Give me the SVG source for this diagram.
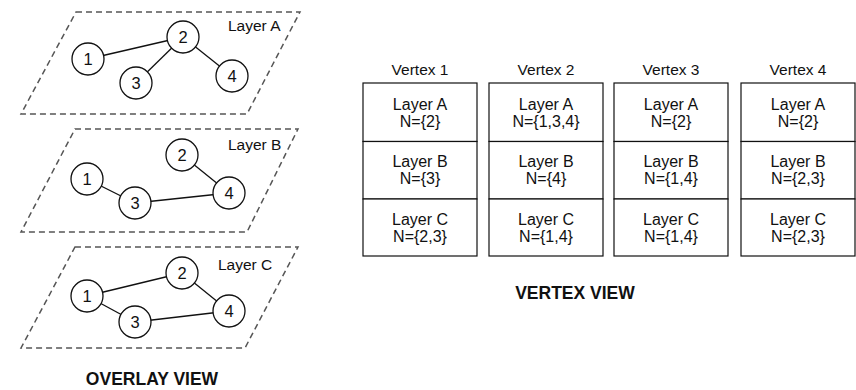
<svg xmlns="http://www.w3.org/2000/svg" width="856" height="390" viewBox="0 0 856 390">
<style>
.plane{fill:none;stroke:#555;stroke-width:1.5;stroke-dasharray:6,4}
.edge{stroke:#111;stroke-width:1.3;fill:none}
.node circle{fill:#fff;stroke:#111;stroke-width:1.3}
text{font-family:"Liberation Sans",Arial,sans-serif;fill:#111}
.num{font-size:16.5px;text-anchor:middle;dominant-baseline:central}
.lbl{font-size:15.5px}
.cell rect{fill:#fff;stroke:#111;stroke-width:1.2}
.ct{font-size:16px;text-anchor:middle}
.hd{font-size:15.5px;text-anchor:middle}
.title{font-size:17.5px;font-weight:bold;text-anchor:middle}
</style>
<rect width="856" height="390" fill="#fff"/>
<g id="layerA">
<polygon class="plane" points="76,12 300,12 247,114 21,114"/>
<text class="lbl" x="228" y="31">Layer A</text>
<g id="connectorsA">
<line class="edge" x1="88" y1="59" x2="183" y2="37"/>
<line class="edge" x1="183" y1="37" x2="136" y2="83"/>
<line class="edge" x1="183" y1="37" x2="232" y2="76"/>
</g>
<g id="A1" class="node"><circle cx="88" cy="59" r="16"/><text class="num" x="88" y="59">1</text></g>
<g id="A2" class="node"><circle cx="183" cy="37" r="16"/><text class="num" x="183" y="37">2</text></g>
<g id="A3" class="node"><circle cx="136" cy="83" r="16"/><text class="num" x="136" y="83">3</text></g>
<g id="A4" class="node"><circle cx="232" cy="76" r="16"/><text class="num" x="232" y="76">4</text></g>
</g>
<g id="layerB">
<polygon class="plane" points="75,129 298,129 247,232 21,232"/>
<text class="lbl" x="228" y="150">Layer B</text>
<g id="connectorsB">
<line class="edge" x1="182" y1="155" x2="229" y2="193"/>
<line class="edge" x1="87" y1="179" x2="135" y2="203"/>
<line class="edge" x1="135" y1="203" x2="229" y2="193"/>
</g>
<g id="B1" class="node"><circle cx="87" cy="179" r="16"/><text class="num" x="87" y="179">1</text></g>
<g id="B2" class="node"><circle cx="182" cy="155" r="16"/><text class="num" x="182" y="155">2</text></g>
<g id="B3" class="node"><circle cx="135" cy="203" r="16"/><text class="num" x="135" y="203">3</text></g>
<g id="B4" class="node"><circle cx="229" cy="193" r="16"/><text class="num" x="229" y="193">4</text></g>
</g>
<g id="layerC">
<polygon class="plane" points="75,247 298,247 245,348 21,348"/>
<text class="lbl" x="218" y="270">Layer C</text>
<g id="connectorsC">
<line class="edge" x1="87" y1="296" x2="182" y2="273"/>
<line class="edge" x1="182" y1="273" x2="229" y2="311"/>
<line class="edge" x1="87" y1="296" x2="135" y2="322"/>
<line class="edge" x1="135" y1="322" x2="229" y2="311"/>
</g>
<g id="C1" class="node"><circle cx="87" cy="296" r="16"/><text class="num" x="87" y="296">1</text></g>
<g id="C2" class="node"><circle cx="182" cy="273" r="16"/><text class="num" x="182" y="273">2</text></g>
<g id="C3" class="node"><circle cx="135" cy="322" r="16"/><text class="num" x="135" y="322">3</text></g>
<g id="C4" class="node"><circle cx="229" cy="311" r="16"/><text class="num" x="229" y="311">4</text></g>
</g>
<text class="title" x="152" y="385">OVERLAY VIEW</text>

<g id="vertex1" class="cell">
<text class="hd" x="420" y="75">Vertex 1</text>
<rect x="363" y="83" width="114" height="58.5"/>
<rect x="363" y="141.5" width="114" height="57.5"/>
<rect x="363" y="199" width="114" height="57"/>
<text class="ct" x="420" y="109.5">Layer A</text><text class="ct" x="420" y="126.5">N={2}</text>
<text class="ct" x="420" y="167">Layer B</text><text class="ct" x="420" y="184">N={3}</text>
<text class="ct" x="420" y="224.5">Layer C</text><text class="ct" x="420" y="241.5">N={2,3}</text>
</g>
<g id="vertex2" class="cell">
<text class="hd" x="546" y="75">Vertex 2</text>
<rect x="489" y="83" width="114" height="58.5"/>
<rect x="489" y="141.5" width="114" height="57.5"/>
<rect x="489" y="199" width="114" height="57"/>
<text class="ct" x="546" y="109.5">Layer A</text><text class="ct" x="546" y="126.5">N={1,3,4}</text>
<text class="ct" x="546" y="167">Layer B</text><text class="ct" x="546" y="184">N={4}</text>
<text class="ct" x="546" y="224.5">Layer C</text><text class="ct" x="546" y="241.5">N={1,4}</text>
</g>
<g id="vertex3" class="cell">
<text class="hd" x="671" y="75">Vertex 3</text>
<rect x="614" y="83" width="114" height="58.5"/>
<rect x="614" y="141.5" width="114" height="57.5"/>
<rect x="614" y="199" width="114" height="57"/>
<text class="ct" x="671" y="109.5">Layer A</text><text class="ct" x="671" y="126.5">N={2}</text>
<text class="ct" x="671" y="167">Layer B</text><text class="ct" x="671" y="184">N={1,4}</text>
<text class="ct" x="671" y="224.5">Layer C</text><text class="ct" x="671" y="241.5">N={1,4}</text>
</g>
<g id="vertex4" class="cell">
<text class="hd" x="798" y="75">Vertex 4</text>
<rect x="741" y="83" width="114" height="58.5"/>
<rect x="741" y="141.5" width="114" height="57.5"/>
<rect x="741" y="199" width="114" height="57"/>
<text class="ct" x="798" y="109.5">Layer A</text><text class="ct" x="798" y="126.5">N={2}</text>
<text class="ct" x="798" y="167">Layer B</text><text class="ct" x="798" y="184">N={2,3}</text>
<text class="ct" x="798" y="224.5">Layer C</text><text class="ct" x="798" y="241.5">N={2,3}</text>
</g>
<text class="title" x="575" y="299">VERTEX VIEW</text>
</svg>
